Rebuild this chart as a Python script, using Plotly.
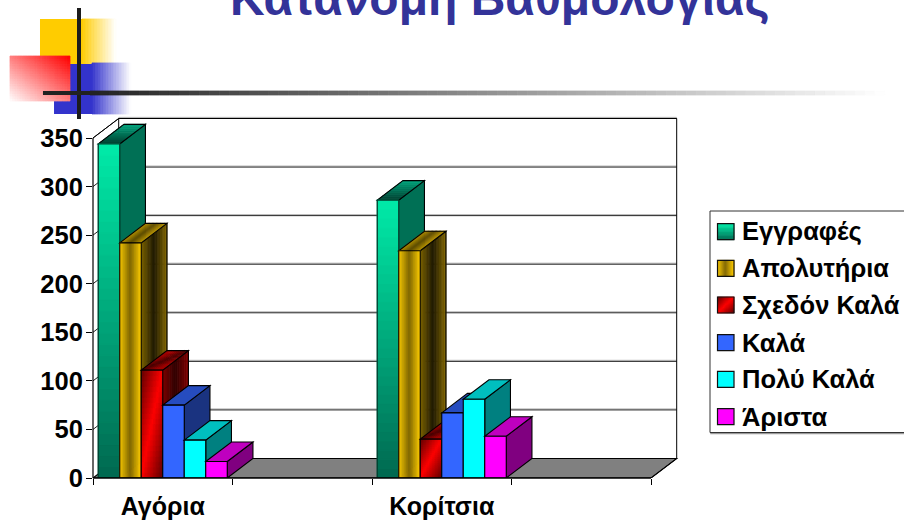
import plotly.graph_objects as go

# ---- data ----
categories = ["Αγόρια", "Κορίτσια"]
category_positions = [0.5, 2.5]
series_names = ["Εγγραφές", "Απολυτήρια", "Σχεδόν Καλά", "Καλά", "Πολύ Καλά", "Άριστα"]
enrolled = [344, 286]
diplomas = [242, 234]
almost_good = [111, 40]
good = [75, 67]
very_good = [39, 81]
excellent = [17, 43]
y_ticks = [0, 50, 100, 150, 200, 250, 300, 350]
title_text = "Κατανομή Βαθμολογίας"
series_values = [enrolled, diplomas, almost_good, good, very_good, excellent]

# ---- layout constants ----
L, R, T, B = 93, 680, 115, 478
UX = 139.5            # px per category unit
UY = 340 / 350        # px per value unit
XMAX = (R - L) / UX
YMAX = (B - T) / UY
DX = 25.7 / UX        # depth offset
DY = 19.5 / UY
BW = 21.5 / UX
FRONT_W = 4.0
FONT = "Liberation Sans"


def hexrgb(h):
    h = h.lstrip("#")
    return tuple(int(h[i:i + 2], 16) for i in (0, 2, 4))


def mix(a, b, f):
    a, b = hexrgb(a), hexrgb(b)
    f = max(0, min(1, f))
    return "rgb(%d,%d,%d)" % tuple(round(a[i] + (b[i] - a[i]) * f) for i in range(3))


shapes = []


def poly(pts, fill=None, line=None, width=1.0, ref=("x", "y"), layer="above"):
    path = "M" + " L".join("%.4f,%.4f" % p for p in pts) + " Z"
    shapes.append(dict(type="path", path=path, xref=ref[0], yref=ref[1], layer=layer,
                       fillcolor=fill if fill else "rgba(0,0,0,0)",
                       line=dict(color=line if line else "rgba(0,0,0,0)", width=width if line else 0)))


def seg(p, q, color="#000000", width=1.0, ref=("x", "y"), layer="above"):
    shapes.append(dict(type="line", x0=p[0], y0=p[1], x1=q[0], y1=q[1], xref=ref[0], yref=ref[1],
                       layer=layer, line=dict(color=color, width=width)))


def face(p0, u, v, fn, nu=1, nv=1, ref=("x", "y"), outline="#000000", olw=1.1):
    for i in range(nu):
        for j in range(nv):
            s0, s1, t0, t1 = i / nu, (i + 1) / nu, j / nv, (j + 1) / nv
            c = fn((s0 + s1) / 2, (t0 + t1) / 2)
            pts = [(p0[0] + u[0] * a + v[0] * b, p0[1] + u[1] * a + v[1] * b)
                   for a, b in ((s0, t0), (s1, t0), (s1, t1), (s0, t1))]
            poly(pts, fill=c, line=c if (nu > 1 or nv > 1) else None, width=0.8, ref=ref)
    if outline:
        pts = [p0, (p0[0] + u[0], p0[1] + u[1]), (p0[0] + u[0] + v[0], p0[1] + u[1] + v[1]),
               (p0[0] + v[0], p0[1] + v[1])]
        poly(pts, line=outline, width=olw, ref=ref)


def flat(c):
    return lambda s, t: c


styles = [
    dict(front=lambda s, t: mix("#006850", "#00EBA8", t), side=lambda s, t: mix("#006E52", "#007358", t),
         top=lambda s, t: mix("#003D2E", "#00A37C", t), nf=(1, 30), ns=(1, 1), nt=(1, 10), base="#00A37C",
         outline="#00402F"),
    dict(front=lambda s, t: mix("#806600", "#FFCC00", abs(2 * s - 1)),
         side=lambda s, t: mix("#1E1800", "#806600", abs(2 * s - 1)),
         top=lambda s, t: mix("#5E4B00", "#B89300", abs(2 * s - 1)), nf=(16, 1), ns=(16, 1), nt=(16, 1),
         base="#C09900", outline="#000000"),
    dict(front=lambda s, t: mix("#FF0000", "#6E0000", abs(s - t) * 1.1),
         side=lambda s, t: mix("#2E0000", "#800000", abs(2 * s - 1)),
         top=lambda s, t: mix("#4A0000", "#A00000", abs(s - t) * 1.6), nf=(14, 20), ns=(12, 1), nt=(10, 6),
         base="#C00000", outline="#000000"),
    dict(front=flat("#3366FF"), side=flat("#1A3380"), top=flat("#264CBF"), nf=(1, 1), ns=(1, 1), nt=(1, 1),
         base="#3366FF", outline="#000000"),
    dict(front=flat("#00FFFF"), side=flat("#008080"), top=flat("#00BFBF"), nf=(1, 1), ns=(1, 1), nt=(1, 1),
         base="#00FFFF", outline="#000000"),
    dict(front=flat("#FF00FF"), side=flat("#800080"), top=flat("#BF00BF"), nf=(1, 1), ns=(1, 1), nt=(1, 1),
         base="#FF00FF", outline="#000000"),
]


def X(px):
    return (px - L) / (R - L)


def Y(py):
    return (B - py) / (B - T)


PAPER = ("paper", "paper")


def pface(x0, y0, x1, y1, fn, nu=1, nv=1, outline=None, olw=1.2):
    """face given in screen pixels; s grows to the right, t grows upward"""
    face((X(x0), Y(y1)), (X(x1) - X(x0), 0), (0, Y(y0) - Y(y1)), fn, nu, nv, ref=PAPER, outline=outline, olw=olw)


# ---- decoration of the slide ----
pface(40, 19, 82, 64, flat("#FFCC00"))
pface(82, 19, 116, 64, lambda s, t: mix("#FFCC00", "#FFFFFF", s), 22, 1)
pface(54, 64, 92, 114, flat("#3333CC"))
pface(92, 63, 131, 114, lambda s, t: mix("#3333CC", "#FFFFFF", s), 24, 1)
pface(10, 56, 70, 101, lambda s, t: mix("#FFFFFF", "#FF0000", (s + t) / 2), 24, 18)
pface(77, 8, 81, 119, flat("#1C1C1C"))
pface(43, 91, 90, 95, flat("#222222"))
pface(90, 91, 885, 95, lambda s, t: mix("#222222", "#FFFFFF", s), 80, 1)

# ---- 3D box: floor and walls ----
poly([(0, 0), (FRONT_W, 0), (FRONT_W + DX, DY), (DX, DY)], fill="#808080", line="#000000", width=1.1, layer="below")
for v in y_ticks[1:]:
    ybk = v + DY
    seg((DX, ybk + 1.1), (FRONT_W + DX, ybk + 1.1), "#B8B8B8", 1.0, layer="below")
    seg((DX, ybk), (FRONT_W + DX, ybk), "#222222", 1.0, layer="below")
    seg((0, v), (DX, ybk), "#222222", 1.0, layer="below")
seg((DX, DY), (DX, 350 + DY), "#000000", 1.0, layer="below")
seg((DX, 350 + DY + 1.1), (FRONT_W + DX, 350 + DY + 1.1), "#B8B8B8", 1.0, layer="below")
seg((DX, 350 + DY), (FRONT_W + DX, 350 + DY), "#000000", 1.0, layer="below")
seg((FRONT_W + DX, DY), (FRONT_W + DX, 350 + DY), "#000000", 1.0, layer="below")
seg((FRONT_W, 0), (FRONT_W + DX, DY), "#000000", 1.0, layer="below")
seg((0, 350), (DX, 350 + DY), "#000000", 1.0, layer="below")

# axis line that sits exactly on the plot edge
seg((X(L), 0), (X(L), 350 / YMAX), "#000000", 1.2, ref=PAPER)

# ---- bars ----
fig = go.Figure()
for i, (name, vals, st) in enumerate(zip(series_names, series_values, styles)):
    fig.add_trace(go.Bar(name=name, x=category_positions, y=vals, width=BW, offset=-3 * BW + i * BW,
                         marker=dict(color=st["base"], line=dict(width=0)), showlegend=False,
                         hovertemplate="%{y}<extra>" + name + "</extra>"))

for c, pos in enumerate(category_positions):
    for i, (vals, st) in enumerate(zip(series_values, styles)):
        v = vals[c]
        x0 = pos - 3 * BW + i * BW
        face((x0 + BW, 0), (DX, DY), (0, v), st["side"], st["ns"][0], st["ns"][1])
        face((x0, v), (BW, 0), (DX, DY), st["top"], st["nt"][0], st["nt"][1])
        face((x0, 0), (BW, 0), (0, v), st["front"], st["nf"][0], st["nf"][1], outline=st["outline"],
             olw=1.3 if st["outline"] != "#000000" else 1.1)

seg((X(L), 0), (X(L + FRONT_W * UX), 0), "#000000", 1.3, ref=PAPER)

# ---- legend ----
LEG_ROWS = [231.7, 268.3, 305.0, 342.7, 379.3, 416.7]
shapes.append(dict(type="rect", xref="paper", yref="paper", x0=X(711), x1=X(912), y0=Y(433.5), y1=Y(212),
                   line=dict(color="#9A9A9A", width=1.5), fillcolor="#FFFFFF", layer="above"))
shapes.append(dict(type="rect", xref="paper", yref="paper", x0=X(710), x1=X(912), y0=Y(432.5), y1=Y(211),
                   line=dict(color="#333333", width=1), fillcolor="#FFFFFF", layer="above"))
annotations = []
for name, st, yc in zip(series_names, styles, LEG_ROWS):
    pface(717.5, yc - 8, 734, yc + 8, st["front"], st["nf"][0], min(st["nf"][1], 12), outline="#101010", olw=1.2)
    annotations.append(dict(xref="paper", yref="paper", x=X(739.5), y=Y(yc), xanchor="left", yanchor="middle",
                            text=name, showarrow=False,
                            font=dict(family=FONT, size=25.5, color="#000000", weight=700)))

# ---- title ----
annotations.append(dict(xref="paper", yref="paper", x=X(499.5), y=Y(27), xanchor="center", yanchor="bottom",
                        text=title_text, showarrow=False,
                        font=dict(family=FONT, size=48, color="#333399", weight=700)))

fig.update_layout(
    width=904, height=523, autosize=False,
    margin=dict(l=L, r=904 - R, t=T, b=523 - B, pad=0, autoexpand=False),
    paper_bgcolor="#FFFFFF", plot_bgcolor="#FFFFFF",
    showlegend=False, shapes=shapes, annotations=annotations,
    xaxis=dict(range=[0, XMAX], tickmode="array", tickvals=category_positions, ticktext=categories,
               ticks="", showgrid=False, zeroline=False, showline=False, ticklabelstandoff=11, automargin=False,
               tickfont=dict(family=FONT, size=25, color="#000000", weight=700),
               minor=dict(tickmode="array", tickvals=[0, 1, 2, 3, 4], ticks="outside", ticklen=6,
                          tickcolor="#000000", tickwidth=1, showgrid=False)),
    yaxis=dict(range=[0, YMAX], tickmode="array", tickvals=y_ticks, ticks="outside", ticklen=6, automargin=False,
               ticklabelstandoff=-2,
               tickcolor="#000000", tickwidth=1, showgrid=False, zeroline=False, showline=False,
               tickfont=dict(family=FONT, size=25.5, color="#000000", weight=700)),
)

fig.write_html("out.html", config=dict(displayModeBar=False),
               post_script="document.body.style.margin='0';document.documentElement.style.overflow='hidden';"
                           "document.querySelectorAll('.shapelayer path').forEach(function(p){p.style.shapeRendering='geometricPrecision';});")
